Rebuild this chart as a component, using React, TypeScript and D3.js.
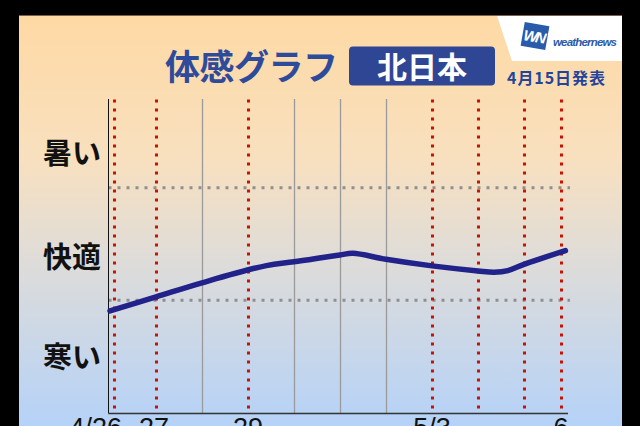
import React from "react";
import * as d3 from "d3";

// ---- data ----
const dayLabels = ["4/26", "27", "28", "29", "30", "5/1", "5/2", "5/3", "4", "5", "6"];
const shownLabels = ["4/26", "27", "29", "5/3", "6"];
const holidays = [true, true, false, true, false, false, false, true, true, true, true];
// feel index samples: day offset from 4/26, value (0 = cold ... 100 = hot)
const lineDays = [0, 1, 2, 3.4, 4, 5, 5.28, 6, 7, 8, 8.35, 8.65, 9, 9.9];
const lineValues = [32.6, 37.1, 41.6, 47.1, 48.3, 50.5, 51.0, 49.1, 47.0, 45.4, 45.0, 45.5, 47.5, 51.9];
const comfortBounds = [36, 72];
const feelLabels = ["暑い", "快適", "寒い"];
const feelLabelValues = [83, 49.8, 17.6];

const W = 640;
const H = 426;
const plotLeft = 108.5;
const plotRight = 568;
const plotTop = 99;
const plotBottom = 413.5;

const JP = "'Noto Sans CJK JP', 'Noto Sans', sans-serif";

export default function App() {
  const x = d3.scaleLinear().domain([0, 10]).range([110, 570]);
  const y = d3.scaleLinear().domain([0, 100]).range([413, 100]);
  const clampX = (v: number) => Math.min(plotRight - 7, Math.max(plotLeft + 5.5, v));

  const line = d3
    .line<number>()
    .x((_, i) => x(lineDays[i]))
    .y((d) => y(d))
    .curve(d3.curveCatmullRom.alpha(0.5));

  return (
    <svg width={W} height={H} style={{ position: "absolute", left: 0, top: 0, display: "block" }}>
      <defs>
        <linearGradient id="bg" x1="0" y1="0" x2="0" y2="1">
          <stop offset="0%" stopColor="#FED9A4" />
          <stop offset="35%" stopColor="#F8E0BF" />
          <stop offset="60%" stopColor="#DEDCD9" />
          <stop offset="100%" stopColor="#B5D2F8" />
        </linearGradient>
      </defs>
      <rect x={0} y={0} width={W} height={H} fill="#000" />
      <rect x={19} y={15} width={603} height={H - 15} fill="url(#bg)" />
      <line x1={19} x2={622} y1={15.5} y2={15.5} stroke="#7a5f45" strokeWidth={1} />

      {/* logo */}
      <polygon points="497,16 622,16 622,61 512,61" fill="#fff" />
      <g transform="translate(535,36) rotate(10)">
        <rect x={-12.5} y={-12} width={25} height={24} fill="#2A5BAA" />
        <text x={-1} y={6} textAnchor="middle" fontFamily="'Liberation Sans', sans-serif" fontWeight="bold" fontStyle="italic" fontSize={15} fill="#fff" letterSpacing={-2}>WN</text>
      </g>
      <text x={553} y={46} fontFamily="'Liberation Sans', sans-serif" fontWeight="bold" fontStyle="italic" fontSize={11.5} fill="#2A5BAA" textLength={64}>weathernews</text>

      {/* titles */}
      <text x={165} y={80} fontFamily={JP} fontWeight="bold" fontSize={35} fill="#2E4B9B" textLength={173}>体感グラフ</text>
      <rect x={349} y={46.5} width={146} height={39} rx={4} fill="#2F4695" />
      <text x={422} y={78} textAnchor="middle" fontFamily={JP} fontWeight="bold" fontSize={30} fill="#fff">北日本</text>
      <text x={507} y={84} fontFamily={JP} fontWeight="bold" fontSize={16} fill="#22449A" textLength={98}>4月15日発表</text>

      {/* comfort band lines */}
      {comfortBounds.map((b) => (
        <line key={b} x1={plotLeft} x2={570} y1={y(b)} y2={y(b)} stroke="#8f8f8f" strokeWidth={3} strokeDasharray="3,6" />
      ))}

      {/* day lines */}
      {dayLabels.map((lab, i) => {
        const xx = Math.round(clampX(x(i))) + 0.5;
        return holidays[i] ? (
          <line key={lab} x1={xx} x2={xx} y1={plotTop + 0.5} y2={plotBottom} stroke="#CC1100" strokeWidth={3} strokeDasharray="3,6" />
        ) : (
          <line key={lab} x1={xx} x2={xx} y1={plotTop} y2={plotBottom} stroke="#9a9a9a" strokeWidth={1.3} />
        );
      })}

      {/* axes */}
      <line x1={plotLeft} x2={plotLeft} y1={plotTop} y2={plotBottom} stroke="#111" strokeWidth={1} />
      <line x1={plotLeft} x2={plotRight} y1={plotBottom} y2={plotBottom} stroke="#333" strokeWidth={1.5} />

      {/* feel line */}
      <path d={line(lineValues) || ""} fill="none" stroke="#22238A" strokeWidth={5.5} strokeLinecap="round" strokeLinejoin="round" />

      {/* y labels */}
      {feelLabels.map((t, i) => (
        <text key={t} x={72} y={y(feelLabelValues[i])} dy="0.36em" textAnchor="middle" fontFamily={JP} fontWeight="bold" fontSize={29} fill="#111">{t}</text>
      ))}

      {/* x labels */}
      {shownLabels.map((lab) => {
        const i = dayLabels.indexOf(lab);
        const xx = clampX(x(i));
        const first = i === 0;
        return (
          <text key={lab} x={first ? xx + 8 : xx - (i === 1 ? 2 : 0)} y={437} textAnchor={first ? "end" : "middle"} fontFamily="'Liberation Sans', Arial, sans-serif" fontSize={27} fill="#111">{lab}</text>
        );
      })}
    </svg>
  );
}
